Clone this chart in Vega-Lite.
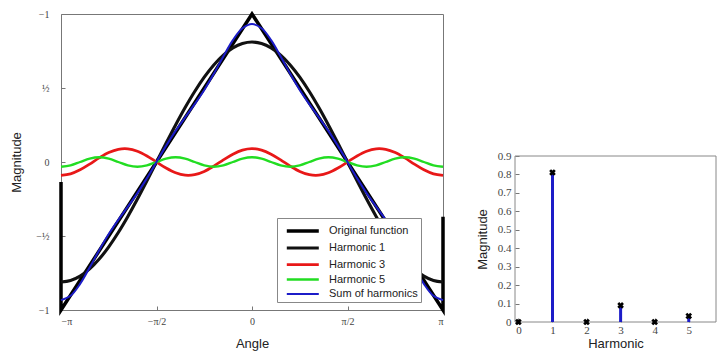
{
  "$schema": "https://vega.github.io/schema/vega-lite/v6.json",
  "padding": {"left": 10, "top": 6, "right": 0, "bottom": 0},
  "background": "white",
  "config": {
    "view": {"stroke": "#777", "strokeWidth": 1},
    "axis": {"domain": false, "grid": false, "tickColor": "#777", "tickSize": -4, "labelFont": "Liberation Serif", "labelFontSize": 10, "labelColor": "#444", "titleFont": "Liberation Sans", "titleFontSize": 13, "titleFontWeight": "normal", "titleColor": "#222"},
    "concat": {"spacing": 25}
  },
  "datasets": {
    "original": [
      {"series": "Original function", "t": -1, "y": -0.135, "i": 0},
      {"series": "Original function", "t": -1, "y": -1, "i": 1},
      {"series": "Original function", "t": 0, "y": 1, "i": 2},
      {"series": "Original function", "t": 1, "y": -1, "i": 3},
      {"series": "Original function", "t": 1, "y": -0.37, "i": 4}
    ],
    "harm": [
      {"t": -1, "Harmonic 1": -0.8106, "Harmonic 3": -0.0901, "Harmonic 5": -0.0324, "Sum of harmonics": -0.9331},
      {"t": -0.95, "Harmonic 1": -0.8006, "Harmonic 3": -0.0802, "Harmonic 5": -0.0229, "Sum of harmonics": -0.9037},
      {"t": -0.9, "Harmonic 1": -0.7709, "Harmonic 3": -0.0529, "Harmonic 5": 0, "Sum of harmonics": -0.8238},
      {"t": -0.85, "Harmonic 1": -0.7222, "Harmonic 3": -0.0141, "Harmonic 5": 0.0229, "Sum of harmonics": -0.7134},
      {"t": -0.8, "Harmonic 1": -0.6558, "Harmonic 3": 0.0278, "Harmonic 5": 0.0324, "Sum of harmonics": -0.5956},
      {"t": -0.75, "Harmonic 1": -0.5732, "Harmonic 3": 0.0637, "Harmonic 5": 0.0229, "Sum of harmonics": -0.4866},
      {"t": -0.7, "Harmonic 1": -0.4764, "Harmonic 3": 0.0857, "Harmonic 5": 0, "Sum of harmonics": -0.3907},
      {"t": -0.65, "Harmonic 1": -0.368, "Harmonic 3": 0.089, "Harmonic 5": -0.0229, "Sum of harmonics": -0.3019},
      {"t": -0.6, "Harmonic 1": -0.2505, "Harmonic 3": 0.0729, "Harmonic 5": -0.0324, "Sum of harmonics": -0.21},
      {"t": -0.55, "Harmonic 1": -0.1268, "Harmonic 3": 0.0409, "Harmonic 5": -0.0229, "Sum of harmonics": -0.1088},
      {"t": -0.5, "Harmonic 1": 0, "Harmonic 3": 0, "Harmonic 5": 0, "Sum of harmonics": 0},
      {"t": -0.45, "Harmonic 1": 0.1268, "Harmonic 3": -0.0409, "Harmonic 5": 0.0229, "Sum of harmonics": 0.1088},
      {"t": -0.4, "Harmonic 1": 0.2505, "Harmonic 3": -0.0729, "Harmonic 5": 0.0324, "Sum of harmonics": 0.21},
      {"t": -0.35, "Harmonic 1": 0.368, "Harmonic 3": -0.089, "Harmonic 5": 0.0229, "Sum of harmonics": 0.3019},
      {"t": -0.3, "Harmonic 1": 0.4764, "Harmonic 3": -0.0857, "Harmonic 5": 0, "Sum of harmonics": 0.3907},
      {"t": -0.25, "Harmonic 1": 0.5732, "Harmonic 3": -0.0637, "Harmonic 5": -0.0229, "Sum of harmonics": 0.4866},
      {"t": -0.2, "Harmonic 1": 0.6558, "Harmonic 3": -0.0278, "Harmonic 5": -0.0324, "Sum of harmonics": 0.5956},
      {"t": -0.15, "Harmonic 1": 0.7222, "Harmonic 3": 0.0141, "Harmonic 5": -0.0229, "Sum of harmonics": 0.7134},
      {"t": -0.1, "Harmonic 1": 0.7709, "Harmonic 3": 0.0529, "Harmonic 5": 0, "Sum of harmonics": 0.8238},
      {"t": -0.05, "Harmonic 1": 0.8006, "Harmonic 3": 0.0802, "Harmonic 5": 0.0229, "Sum of harmonics": 0.9037},
      {"t": 0, "Harmonic 1": 0.8106, "Harmonic 3": 0.0901, "Harmonic 5": 0.0324, "Sum of harmonics": 0.9331},
      {"t": 0.05, "Harmonic 1": 0.8006, "Harmonic 3": 0.0802, "Harmonic 5": 0.0229, "Sum of harmonics": 0.9037},
      {"t": 0.1, "Harmonic 1": 0.7709, "Harmonic 3": 0.0529, "Harmonic 5": 0, "Sum of harmonics": 0.8238},
      {"t": 0.15, "Harmonic 1": 0.7222, "Harmonic 3": 0.0141, "Harmonic 5": -0.0229, "Sum of harmonics": 0.7134},
      {"t": 0.2, "Harmonic 1": 0.6558, "Harmonic 3": -0.0278, "Harmonic 5": -0.0324, "Sum of harmonics": 0.5956},
      {"t": 0.25, "Harmonic 1": 0.5732, "Harmonic 3": -0.0637, "Harmonic 5": -0.0229, "Sum of harmonics": 0.4866},
      {"t": 0.3, "Harmonic 1": 0.4764, "Harmonic 3": -0.0857, "Harmonic 5": 0, "Sum of harmonics": 0.3907},
      {"t": 0.35, "Harmonic 1": 0.368, "Harmonic 3": -0.089, "Harmonic 5": 0.0229, "Sum of harmonics": 0.3019},
      {"t": 0.4, "Harmonic 1": 0.2505, "Harmonic 3": -0.0729, "Harmonic 5": 0.0324, "Sum of harmonics": 0.21},
      {"t": 0.45, "Harmonic 1": 0.1268, "Harmonic 3": -0.0409, "Harmonic 5": 0.0229, "Sum of harmonics": 0.1088},
      {"t": 0.5, "Harmonic 1": 0, "Harmonic 3": 0, "Harmonic 5": 0, "Sum of harmonics": 0},
      {"t": 0.55, "Harmonic 1": -0.1268, "Harmonic 3": 0.0409, "Harmonic 5": -0.0229, "Sum of harmonics": -0.1088},
      {"t": 0.6, "Harmonic 1": -0.2505, "Harmonic 3": 0.0729, "Harmonic 5": -0.0324, "Sum of harmonics": -0.21},
      {"t": 0.65, "Harmonic 1": -0.368, "Harmonic 3": 0.089, "Harmonic 5": -0.0229, "Sum of harmonics": -0.3019},
      {"t": 0.7, "Harmonic 1": -0.4764, "Harmonic 3": 0.0857, "Harmonic 5": 0, "Sum of harmonics": -0.3907},
      {"t": 0.75, "Harmonic 1": -0.5732, "Harmonic 3": 0.0637, "Harmonic 5": 0.0229, "Sum of harmonics": -0.4866},
      {"t": 0.8, "Harmonic 1": -0.6558, "Harmonic 3": 0.0278, "Harmonic 5": 0.0324, "Sum of harmonics": -0.5956},
      {"t": 0.85, "Harmonic 1": -0.7222, "Harmonic 3": -0.0141, "Harmonic 5": 0.0229, "Sum of harmonics": -0.7134},
      {"t": 0.9, "Harmonic 1": -0.7709, "Harmonic 3": -0.0529, "Harmonic 5": 0, "Sum of harmonics": -0.8238},
      {"t": 0.95, "Harmonic 1": -0.8006, "Harmonic 3": -0.0802, "Harmonic 5": -0.0229, "Sum of harmonics": -0.9037},
      {"t": 1, "Harmonic 1": -0.8106, "Harmonic 3": -0.0901, "Harmonic 5": -0.0324, "Sum of harmonics": -0.9331}
    ],
    "spectrum": [
      {"h": 0, "m": 0},
      {"h": 1, "m": 0.8106},
      {"h": 2, "m": 0},
      {"h": 3, "m": 0.0901},
      {"h": 4, "m": 0},
      {"h": 5, "m": 0.0324}
    ],
    "frame": [
      {"x1": -0.1, "x2": 5.8, "y1": 0.9, "y2": 0.9},
      {"x1": -0.1, "x2": 5.8, "y1": 0, "y2": 0},
      {"x1": -0.1, "x2": -0.1, "y1": 0, "y2": 0.9},
      {"x1": 5.8, "x2": 5.8, "y1": 0, "y2": 0.9}
    ]
  },
  "hconcat": [
    {
      "width": 382,
      "height": 296,
      "encoding": {
        "x": {"field": "t", "type": "quantitative", "scale": {"domain": [-1, 1], "nice": false},
          "axis": {"title": "Angle", "values": [-1, -0.5, 0, 0.5, 1], "labelExpr": "datum.value == -1 ? '−π' : datum.value == -0.5 ? '−π/2' : datum.value == 0 ? '0' : datum.value == 0.5 ? 'π/2' : 'π'", "labelPadding": 10, "titlePadding": 11}},
        "y": {"field": "y", "type": "quantitative", "scale": {"domain": [-1, 1], "nice": false},
          "axis": {"title": "Magnitude", "values": [-1, -0.5, 0, 0.5, 1], "labelExpr": "datum.value == 1 ? '−1' : datum.value == 0.5 ? '½' : datum.value == 0 ? '0' : datum.value == -0.5 ? '−½' : '−1'", "labelPadding": 16, "titlePadding": 12}},
        "color": {"field": "series", "type": "nominal",
          "scale": {"domain": ["Original function", "Harmonic 1", "Harmonic 3", "Harmonic 5", "Sum of harmonics"], "range": ["#000000", "#111111", "#e81818", "#22dd22", "#1c1cc8"]},
          "legend": {"orient": "none", "legendX": 216, "legendY": 204, "title": null, "symbolType": "M-0.4,0L3.6,0", "symbolSize": 256, "labelFont": "Liberation Sans", "labelFontSize": 11, "labelColor": "#222", "strokeColor": "#888", "fillColor": "white", "padding": 3, "rowPadding": -1, "labelOffset": 29}},
        "strokeWidth": {"field": "series", "type": "nominal",
          "scale": {"domain": ["Original function", "Harmonic 1", "Harmonic 3", "Harmonic 5", "Sum of harmonics"], "range": [3.5, 2, 2, 2, 2.2]},
          "legend": {"orient": "none", "legendX": 216, "legendY": 204, "title": null, "symbolType": "M-0.4,0L3.6,0", "symbolSize": 256, "labelFont": "Liberation Sans", "labelFontSize": 11, "labelColor": "#222", "strokeColor": "#888", "fillColor": "white", "padding": 3, "rowPadding": -1, "labelOffset": 29}}
      },
      "layer": [
        {
          "data": {"name": "original"},
          "mark": {"type": "line"},
          "encoding": {"order": {"field": "i"}}
        },
        {
          "data": {"name": "harm"},
          "transform": [{"fold": ["Harmonic 1", "Harmonic 3", "Harmonic 5", "Sum of harmonics"], "as": ["series", "y"]}],
          "mark": {"type": "line", "interpolate": "catmull-rom"},
          "encoding": {}
        }
      ]
    },
    {
      "width": 201,
      "height": 296,
      "view": {"stroke": null},
      "layer": [
        {
          "data": {"name": "frame"},
          "mark": {"type": "rule", "color": "#888", "strokeWidth": 1},
          "encoding": {
            "x": {"field": "x1", "type": "quantitative"},
            "x2": {"field": "x2"},
            "y": {"field": "y1", "type": "quantitative"},
            "y2": {"field": "y2"}
          }
        },
        {
          "data": {"name": "spectrum"},
          "mark": {"type": "rule", "color": "#1c1cc8", "strokeWidth": 3},
          "encoding": {
            "x": {"field": "h", "type": "quantitative"},
            "y": {"field": "m", "type": "quantitative"},
            "y2": {"datum": 0}
          }
        },
        {
          "data": {"name": "spectrum"},
          "mark": {"type": "point", "shape": "cross", "angle": 45, "filled": true, "color": "#000000", "size": 45, "opacity": 1},
          "encoding": {
            "x": {"field": "h", "type": "quantitative"},
            "y": {"field": "m", "type": "quantitative"}
          }
        }
      ],
      "encoding": {
        "x": {"field": "h", "type": "quantitative", "scale": {"domain": [-0.1, 5.8], "nice": false},
          "axis": {"title": "Harmonic", "values": [0, 1, 2, 3, 4, 5], "format": "d", "labelFontSize": 11, "labelPadding": 6, "titlePadding": 2, "offset": 12}},
        "y": {"field": "m", "type": "quantitative", "scale": {"domain": [0, 0.9], "nice": false, "range": [308, 142]},
          "axis": {"title": "Magnitude", "values": [0, 0.1, 0.2, 0.3, 0.4, 0.5, 0.6, 0.7, 0.8, 0.9], "labelExpr": "datum.value == 0 ? '0' : format(datum.value, '.1f')", "labelFontSize": 11, "labelPadding": 8, "titlePadding": 8}}
      }
    }
  ]
}
